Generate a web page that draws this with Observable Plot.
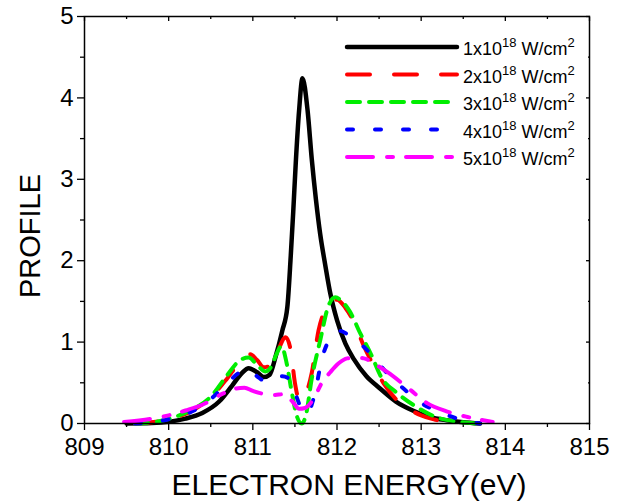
<!DOCTYPE html>
<html>
<head>
<meta charset="utf-8">
<script src="https://cdn.jsdelivr.net/npm/d3@7"></script>
<script src="https://cdn.jsdelivr.net/npm/@observablehq/plot@0.6"></script>
<style>
  html, body { margin: 0; padding: 0; background: #fff; }
  svg { font-family: "Liberation Sans", Arial, Helvetica, sans-serif; }
</style>
</head>
<body>
<div id="chart"></div>
<script>
// ---- data ----
const intensities = ["1", "2", "3", "4", "5"];

const energy1 = [809.5, 809.8, 810.0, 810.2, 810.4, 810.6, 810.75, 810.87, 810.95, 811.05, 811.13, 811.2, 811.27, 811.35, 811.41, 811.45, 811.48, 811.51, 811.55, 811.59, 811.65, 811.7, 811.75, 811.8, 811.86, 811.92, 812.0, 812.1, 812.2, 812.35, 812.5, 812.7, 812.9, 813.1, 813.3, 813.5, 813.7];
const profile1 = [0, 0.005, 0.02, 0.06, 0.13, 0.27, 0.46, 0.62, 0.68, 0.63, 0.57, 0.6, 0.82, 1.14, 1.43, 2.05, 2.6, 3.2, 3.85, 4.24, 3.85, 3.25, 2.75, 2.33, 1.95, 1.6, 1.27, 0.98, 0.79, 0.58, 0.44, 0.27, 0.16, 0.08, 0.04, 0.015, 0];

const energy2 = [809.6, 809.9, 810.1, 810.3, 810.5, 810.7, 810.85, 810.97, 811.05, 811.13, 811.22, 811.3, 811.39, 811.45, 811.5, 811.55, 811.6, 811.65, 811.7, 811.78, 811.88, 812.0, 812.1, 812.2, 812.32, 812.42, 812.55, 812.7, 812.85, 813.0, 813.15, 813.3, 813.45];
const profile2 = [0, 0.03, 0.08, 0.17, 0.32, 0.56, 0.76, 0.85, 0.78, 0.69, 0.72, 0.9, 1.06, 0.9, 0.5, 0.3, 0.3, 0.42, 0.62, 1.14, 1.43, 1.52, 1.42, 1.25, 0.95, 0.74, 0.5, 0.3, 0.18, 0.1, 0.05, 0.02, 0];

const energy3 = [809.6, 809.9, 810.1, 810.3, 810.5, 810.7, 810.85, 810.95, 811.05, 811.15, 811.22, 811.28, 811.34, 811.4, 811.46, 811.52, 811.58, 811.63, 811.7, 811.8, 811.9, 811.98, 812.06, 812.15, 812.28, 812.4, 812.52, 812.72, 812.95, 813.2, 813.45, 813.65];
const profile3 = [0, 0.03, 0.09, 0.18, 0.33, 0.6, 0.78, 0.81, 0.72, 0.64, 0.7, 0.85, 0.95, 0.75, 0.4, 0.1, 0.0, 0.1, 0.55, 1.02, 1.45, 1.55, 1.5, 1.38, 1.1, 0.86, 0.58, 0.37, 0.2, 0.07, 0.02, 0];

const energy4 = [809.6, 809.9, 810.1, 810.3, 810.5, 810.7, 810.85, 810.95, 811.05, 811.15, 811.25, 811.35, 811.43, 811.5, 811.57, 811.65, 811.72, 811.83, 811.92, 812.02, 812.15, 812.34, 812.5, 812.64, 812.8, 812.96, 813.27, 813.5, 813.7];
const profile4 = [0, 0.03, 0.08, 0.16, 0.3, 0.5, 0.63, 0.66, 0.58, 0.52, 0.53, 0.58, 0.55, 0.38, 0.2, 0.13, 0.3, 0.83, 1.05, 1.14, 1.08, 0.92, 0.73, 0.57, 0.42, 0.28, 0.12, 0.04, 0];

const energy5 = [809.47, 809.8, 810.0, 810.2, 810.4, 810.65, 810.8, 810.9, 811.0, 811.1, 811.25, 811.37, 811.47, 811.55, 811.62, 811.72, 811.82, 811.92, 812.02, 812.12, 812.22, 812.32, 812.45, 812.6, 812.84, 813.07, 813.3, 813.55, 813.85];
const profile5 = [0.02, 0.06, 0.1, 0.16, 0.23, 0.37, 0.43, 0.44, 0.4, 0.37, 0.35, 0.36, 0.27, 0.18, 0.19, 0.3, 0.5, 0.63, 0.74, 0.8, 0.81, 0.8, 0.73, 0.63, 0.44, 0.25, 0.15, 0.08, 0.02];

const xTicks = [809, 810, 811, 812, 813, 814, 815];
const yTicks = [0, 1, 2, 3, 4, 5];

// ---- styles ----
const energies = [energy1, energy2, energy3, energy4, energy5];
const profiles = [profile1, profile2, profile3, profile4, profile5];
const colors = ["#000000", "#ff0000", "#00ee00", "#0000ff", "#ff00ff"];
const dashes = [null, "23,24", "13,9", "6,22", "26,14,6,13"];
const widths = [4.5, 4, 4, 4, 4];

const series = intensities.map((k, i) => ({
  data: energies[i].map((e, j) => ({energy: e, profile: profiles[i][j]})),
  color: colors[i], dash: dashes[i], width: widths[i]
}));

const minorX = xTicks.slice(0, -1).map(t => t + 0.5);
const minorY = yTicks.slice(0, -1).map(t => t + 0.5);
const fmt = d => String(d);

const W = 626, H = 502;
const chart = Plot.plot({
  width: W, height: H,
  marginLeft: 84, marginRight: 37, marginTop: 16, marginBottom: 79,
  x: {domain: [809, 815]},
  y: {domain: [0, 5]},
  style: {fontFamily: "Liberation Sans, Arial, sans-serif", color: "black", background: "white"},
  marks: [
    Plot.axisX({ticks: xTicks, tickFormat: fmt, tickSize: 7, tickPadding: 7, fontSize: 24, label: null, strokeWidth: 1.3}),
    Plot.axisX({ticks: minorX, tickSize: 4, text: null, label: null, strokeWidth: 1.3}),
    Plot.axisX({ticks: xTicks, anchor: "top", tickSize: -4, text: null, label: null, strokeWidth: 1.3}),
    Plot.axisX({ticks: minorX, anchor: "top", tickSize: -2, text: null, label: null, strokeWidth: 1.3}),
    Plot.axisY({ticks: yTicks, tickFormat: fmt, tickSize: 7, tickPadding: 4, fontSize: 24, label: null, strokeWidth: 1.3}),
    Plot.axisY({ticks: minorY, tickSize: 4, text: null, label: null, strokeWidth: 1.3}),
    Plot.axisY({ticks: yTicks, anchor: "right", tickSize: -4, text: null, label: null, strokeWidth: 1.3}),
    Plot.axisY({ticks: minorY, anchor: "right", tickSize: -2, text: null, label: null, strokeWidth: 1.3}),
    ...series.map(s => Plot.line(s.data, {
      x: "energy", y: "profile", stroke: s.color, strokeWidth: s.width,
      strokeDasharray: s.dash, strokeLinecap: "round", strokeLinejoin: "round",
      curve: "monotone-x"
    })),
    Plot.frame({stroke: "black", strokeWidth: 1.5})
  ]
});
document.getElementById("chart").appendChild(chart);

// ---- titles & legend ----
const svg = d3.select(chart);
svg.append("text")
  .attr("x", 349).attr("y", 495)
  .attr("text-anchor", "middle")
  .attr("font-size", 30)
  .attr("fill", "black")
  .text("ELECTRON ENERGY(eV)");
svg.append("text")
  .attr("transform", "translate(40,236) rotate(-90)")
  .attr("text-anchor", "middle")
  .attr("font-size", 29)
  .attr("fill", "black")
  .text("PROFILE");

const lg = svg.append("g").attr("text-anchor", "start");
series.forEach((s, i) => {
  const y = 47 + i * 27.5;
  lg.append("line")
    .attr("x1", 347).attr("x2", 457).attr("y1", y).attr("y2", y)
    .attr("stroke", s.color).attr("stroke-width", s.width)
    .attr("stroke-linecap", "round")
    .attr("stroke-dasharray", s.dash);
  const t = lg.append("text").attr("x", 463).attr("y", y + 8)
    .attr("text-anchor", "start")
    .attr("font-size", 18).attr("fill", "black");
  t.append("tspan").text(intensities[i] + "x10");
  t.append("tspan").attr("dy", -8).attr("font-size", 13).text("18");
  t.append("tspan").attr("dy", 8).attr("font-size", 18).text(" W/cm");
  t.append("tspan").attr("dy", -8).attr("font-size", 13).text("2");
});
</script>
</body>
</html>
